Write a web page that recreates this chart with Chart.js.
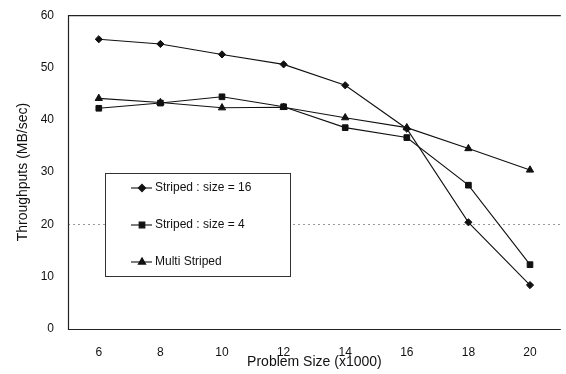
<!DOCTYPE html>
<html><head><meta charset="utf-8">
<script src="https://cdn.jsdelivr.net/npm/chart.js@4/dist/chart.umd.min.js"></script>
<style>html,body{margin:0;padding:0;background:#fff;overflow:hidden}#w{width:566px;height:380px;margin-top:-6px}</style>
</head><body><div id="w"><canvas id="c"></canvas></div>
<script>
const problemSizes = [6, 8, 10, 12, 14, 16, 18, 20];
const striped16 = [55.4, 54.5, 52.5, 50.6, 46.6, 38.3, 20.4, 8.4];
const striped4 = [42.2, 43.2, 44.4, 42.5, 38.5, 36.6, 27.5, 12.3];
const multiStriped = [44.1, 43.3, 42.3, 42.4, 40.4, 38.5, 34.5, 30.4];
const seriesLabels = ['Striped : size = 16', 'Striped : size = 4', 'Multi Striped'];
const yTicks = [0, 10, 20, 30, 40, 50, 60];

const FONT = 'Liberation Sans, Arial, sans-serif';
const INK = '#111';

function mk(label, vals, style, r) {
  return {
    label, data: problemSizes.map((x, i) => ({x, y: vals[i]})),
    borderColor: INK, backgroundColor: INK, borderWidth: 1.1,
    pointStyle: style, pointRadius: r, pointBorderWidth: 1,
    pointBackgroundColor: INK, pointBorderColor: INK, tension: 0
  };
}

const frame = {
  id: 'frame',
  afterDraw(chart) {
    const {ctx, chartArea: a} = chart;
    ctx.save();
    ctx.strokeStyle = '#222'; ctx.lineWidth = 1.2;
    ctx.beginPath();
    ctx.moveTo(a.right, a.top + 0.5); ctx.lineTo(a.left + 0.5, a.top + 0.5);
    ctx.lineTo(a.left + 0.5, a.bottom + 0.5); ctx.lineTo(a.right, a.bottom + 0.5);
    ctx.stroke();
    // legend box (page y = canvas y - 6)
    const off = 6;
    const lx = 105, ly = 173 + off, lw = 185, lh = 103;
    ctx.lineWidth = 1; ctx.strokeStyle = '#333';
    ctx.fillStyle = '#fff';
    ctx.fillRect(lx, ly, lw, lh);
    ctx.strokeRect(lx + 0.5, ly + 0.5, lw, lh);
    const rows = [188, 225, 262];
    chart.data.datasets.forEach((ds, i) => {
      const y = rows[i] + off;
      ctx.strokeStyle = INK; ctx.fillStyle = INK; ctx.lineWidth = 1.1;
      ctx.beginPath(); ctx.moveTo(131, y); ctx.lineTo(152, y); ctx.stroke();
      Chart.helpers.drawPoint(ctx, {pointStyle: ds.pointStyle, radius: ds.pointRadius, borderWidth: 1, rotation: 0}, 142, y);
      ctx.fillStyle = INK;
      ctx.font = '12px ' + FONT;
      ctx.textBaseline = 'middle'; ctx.textAlign = 'left';
      ctx.fillText(ds.label, 155, y);
    });
    ctx.restore();
  }
};

new Chart(document.getElementById('c'), {
  type: 'line',
  data: { datasets: [
    mk(seriesLabels[0], striped16, 'rectRot', 3.6),
    mk(seriesLabels[1], striped4, 'rect', 4),
    mk(seriesLabels[2], multiStriped, 'triangle', 4.2)
  ]},
  options: {
    responsive: true, maintainAspectRatio: false, animation: false,
    layout: { padding: { top: 8, right: 0, left: 0, bottom: 0 } },
    plugins: { legend: { display: false }, tooltip: { enabled: false } },
    scales: {
      x: {
        type: 'linear', min: 5, max: 21,
        afterBuildTicks: s => { s.ticks = problemSizes.map(v => ({value: v})); },
        afterFit: s => { s.height = 45; },
        grid: { display: false, drawTicks: false },
        border: { display: false },
        ticks: { color: INK, font: { family: FONT, size: 12 }, padding: 16, maxRotation: 0 },
        title: { display: true, text: 'Problem Size (x1000)', color: INK, font: { family: FONT, size: 14 }, padding: { top: 0, bottom: 3 } }
      },
      y: {
        min: 0, max: 60,
        afterBuildTicks: s => { s.ticks = yTicks.map(v => ({value: v})); },
        afterFit: s => { s.width = 68; },
        grid: { drawTicks: false, color: c => c.tick && c.tick.value === 20 ? '#999' : 'rgba(0,0,0,0)', lineWidth: 1 },
        border: { display: false, dash: [2, 3] },
        ticks: { color: INK, font: { family: FONT, size: 12 }, padding: 14 },
        title: { display: true, text: 'Throughputs (MB/sec)', color: INK, font: { family: FONT, size: 14 }, padding: { top: 15, bottom: 0 } }
      }
    }
  },
  plugins: [frame]
});
</script>
</body></html>
